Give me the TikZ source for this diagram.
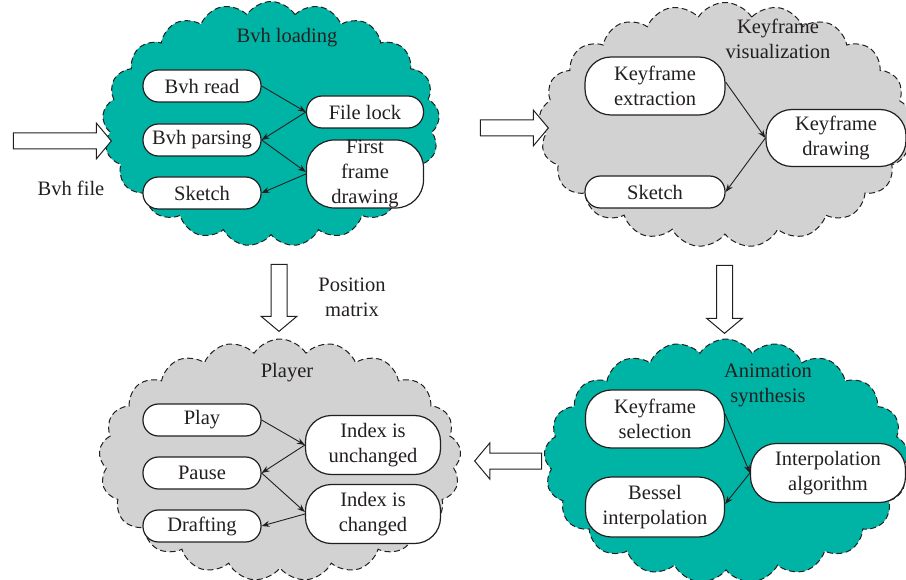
\documentclass[tikz,border=0pt]{standalone}
\usepackage{fontspec}
\setmainfont{Liberation Serif}
\usetikzlibrary{shapes.symbols,shapes.arrows,arrows.meta}

\definecolor{zoneteal}{RGB}{0,180,165}
\definecolor{zonegray}{RGB}{210,210,210}
\definecolor{ink}{RGB}{35,31,32}

\begin{document}
\begin{tikzpicture}[x=1pt,y=-1pt,
  font=\fontsize{20.5}{25}\selectfont, text=ink,
  zone/.style={cloud, cloud puffs=21, cloud puff arc=115, cloud ignores aspect,
    draw=ink, dash pattern=on 6pt off 3.5pt, line width=1pt, inner sep=0pt},
  pill/.style={rectangle, rounded corners=15.5pt, draw=ink, fill=white,
    line width=1.2pt, align=center, inner sep=0pt, minimum height=32pt},
  bigpill/.style={pill, rounded corners=26pt},
  flow/.style={-{Stealth[length=8pt,width=6pt]}, draw=ink, line width=0.9pt},
  bigarrow/.style={single arrow, draw=ink, fill=white, line width=1pt,
    inner xsep=0pt, inner ysep=7.5pt, single arrow head extend=10pt,
    single arrow tip angle=100}]
\clip (0,0) rectangle (906,580);

% the four stages
\node[zone, fill=zoneteal, minimum width=337pt, minimum height=245pt] (load) at (271,124) {};
\node[zone, fill=zonegray, minimum width=372pt, minimum height=245pt] (vis) at (725,125) {};
\node[zone, fill=zonegray, minimum width=362pt, minimum height=242pt] (play) at (280,460) {};
\node[zone, fill=zoneteal, minimum width=364pt, minimum height=244pt] (synth) at (726,461) {};

% stage titles
\node (loadt) at (287,38) {Bvh loading};
\node[align=center] (vist) at (778,39) {Keyframe\\visualization};
\node (playt) at (287,373) {Player};
\node[align=center] (synt) at (768,385) {Animation\\synthesis};

% Bvh loading
\node[pill, minimum width=118pt] (bread) at (202,86) {Bvh read};
\node[pill, minimum width=117pt] (flock) at (365,112) {File lock};
\node[pill, minimum width=118pt] (bparse) at (202,140) {Bvh parsing};
\node[pill, rounded corners=28pt, minimum width=117pt, minimum height=68pt] (ffd) at (365,174) {First\\frame\\drawing};
\node[pill, minimum width=118pt] (skone) at (202,193) {Sketch};
\draw[flow] (bread.east) -- (flock.west);
\draw[flow] (flock.west) -- (bparse.east);
\draw[flow] (bparse.east) -- ([yshift=2pt]ffd.west);
\draw[flow] (ffd.west) -- (skone.east);

% Keyframe visualization
\node[bigpill, minimum width=140pt, minimum height=58pt] (kext) at (655,86) {Keyframe\\extraction};
\node[bigpill, minimum width=140pt, minimum height=57pt] (kdraw) at (836,138) {Keyframe\\drawing};
\node[pill, minimum width=140pt] (sktwo) at (655,192) {Sketch};
\draw[flow] ([yshift=4pt]kext.east) -- (kdraw.west);
\draw[flow] (kdraw.west) -- (sktwo.east);

% Player
\node[pill, minimum width=118pt] (pplay) at (202,420) {Play};
\node[pill, minimum width=118pt] (ppause) at (202,473) {Pause};
\node[pill, minimum width=118pt] (pdraft) at (202,526) {Drafting};
\node[bigpill, minimum width=135pt, minimum height=59pt] (iu) at (373,445) {Index is\\unchanged};
\node[bigpill, minimum width=135pt, minimum height=59pt] (ic) at (373,514) {Index is\\changed};
\draw[flow] (pplay.east) -- (iu.west);
\draw[flow] (iu.west) -- (ppause.east);
\draw[flow] (ppause.east) -- ([yshift=2pt]ic.west);
\draw[flow] (ic.west) -- (pdraft.east);

% Animation synthesis
\node[bigpill, minimum width=139pt, minimum height=58pt] (ksel) at (655,419) {Keyframe\\selection};
\node[bigpill, minimum width=155pt, minimum height=59pt] (ialg) at (828,473) {Interpolation\\algorithm};
\node[bigpill, minimum width=139pt, minimum height=60pt] (bessel) at (655,507) {Bessel\\interpolation};
\draw[flow] ([yshift=5pt]ksel.east) -- (ialg.west);
\draw[flow] (ialg.west) -- ([yshift=3pt]bessel.east);

% data flow between stages
\node[bigarrow, minimum height=98pt] (inarrow) at (59,141) {};
\node[bigarrow, minimum height=68pt] (loadvis) at (511,128) {};
\node[bigarrow, minimum height=67pt, rotate=-90] (loadplay) at (279,294.5) {};
\node[bigarrow, minimum height=68pt, rotate=-90] (vissynth) at (724.5,296) {};
\node[bigarrow, minimum height=67pt, rotate=180] (synthplay) at (511.5,461) {};

\node (bvhfile) at (71,188) {Bvh file};
\node[align=center] (posm) at (352,297) {Position\\matrix};
\end{tikzpicture}
\end{document}
